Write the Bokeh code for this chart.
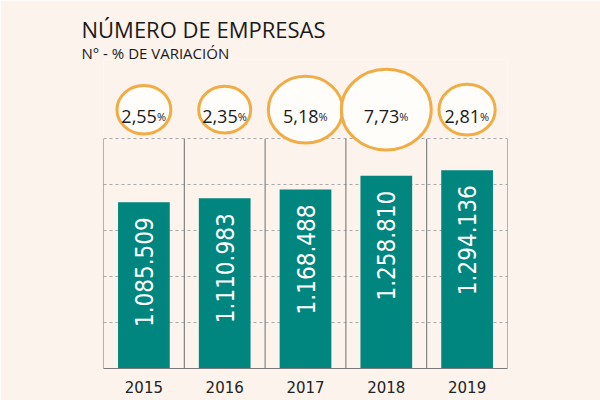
import math
from bokeh.plotting import figure
from bokeh.models import Title, FactorRange, Range1d, FixedTicker, ColumnDataSource
from bokeh.core.properties import value
from bokeh.embed import file_html
from bokeh.resources import INLINE

# Número de empresas por año y su variación interanual (%)
years = ["2015", "2016", "2017", "2018", "2019"]
empresas = [1085509, 1110983, 1168488, 1258810, 1294136]
variacion = [2.55, 2.35, 5.18, 7.73, 2.81]

BG = "#fcf3ec"
TEAL = "#00857f"
ORANGE = "#f0ad45"
GRID_TOP = 1.5e6
BUBBLE_Y = 1.69e6
Y_END = 2.0175e6
NARROW = "DejaVu Sans Condensed, Roboto Condensed, Liberation Sans Narrow, Roboto"

def miles(v):
    return f"{v:,}".replace(",", ".")

def pct(v):
    return f"{v:.2f}".replace(".", ",")

# bubble diameter grows with the variation (area-like scaling)
diam = [math.sqrt(350 + 1000 * v) for v in variacion]

src = ColumnDataSource(dict(
    year=years,
    n=empresas,
    n_lbl=[miles(v) for v in empresas],
    var_lbl=[pct(v) for v in variacion],
    w=diam,
    h=[0.9 * d for d in diam],
    by=[BUBBLE_Y] * len(years),
    pc=["%"] * len(years),
))

p = figure(
    width=600, height=400,
    x_range=FactorRange(*years),
    y_range=Range1d(0, Y_END),
    output_backend="svg", toolbar_location=None,
    min_border_left=103, min_border_right=93,
    min_border_bottom=32, min_border_top=0,
    background_fill_color=BG, border_fill_color=BG,
    outline_line_color=None,
)

# top spacer; the "above" panels stack outward from the frame (subtitle first)
p.title.text = " "
p.title.text_font_size = "8px"
p.title.standoff = 0
p.add_layout(Title(text="N° - % DE VARIACIÓN", align="left", offset=-22, standoff=-6,
                   text_font="Open Sans", text_font_size="15px",
                   text_font_style="normal", text_color="#1a1a1a"), "above")
p.add_layout(Title(text="NÚMERO DE EMPRESAS", align="left", offset=-22, standoff=0,
                   text_font="Open Sans", text_font_size="22px",
                   text_font_style="normal", text_color="#1a1a1a"), "above")

# grid and axes
p.yaxis.visible = False
p.ygrid.ticker = FixedTicker(ticks=[3e5, 6e5, 9e5, 1.2e6, 1.5e6])
p.ygrid.grid_line_color = "#a8a8a8"
p.ygrid.grid_line_dash = "3 3"
p.xgrid.visible = False

p.xaxis.axis_line_color = "#7a7a7a"
p.xaxis.major_tick_line_color = None
p.xaxis.minor_tick_line_color = None
p.xaxis.major_label_text_font = "DejaVu Sans"
p.xaxis.major_label_text_font_size = "15px"
p.xaxis.major_label_text_color = "#222222"
p.xaxis.major_label_standoff = 6

# vertical separators between years
bounds = list(range(len(years) + 1))
p.segment(x0=bounds, y0=[0] * len(bounds), x1=bounds, y1=[GRID_TOP] * len(bounds),
          line_color="#6f6f6f", line_width=1)

# bars
p.vbar(x="year", top="n", width=0.64, source=src, fill_color=TEAL, line_color=None)

p.text(x="year", y="n", text="n_lbl", source=src, angle=math.pi / 2,
       text_align="right", text_baseline="middle", y_offset=15,
       text_font=value(NARROW), text_font_size="24px",
       text_color="white")

# variation bubbles
p.ellipse(x="year", y="by", width="w", height="h", source=src,
          width_units="screen", height_units="screen",
          fill_color="#fffdfa", line_color=ORANGE, line_width=3)

p.text(x="year", y="by", text="var_lbl", source=src,
       text_align="right", text_baseline="alphabetic", x_offset=13, y_offset=7,
       text_font=value("Open Sans"), text_font_size="18px", text_color="#1a1a1a")
p.text(x="year", y="by", text="pc", source=src,
       text_align="left", text_baseline="alphabetic", x_offset=13, y_offset=7,
       text_font=value("Open Sans"), text_font_size="11px", text_color="#1a1a1a")

open("out.html", "w").write(file_html(p, INLINE))
